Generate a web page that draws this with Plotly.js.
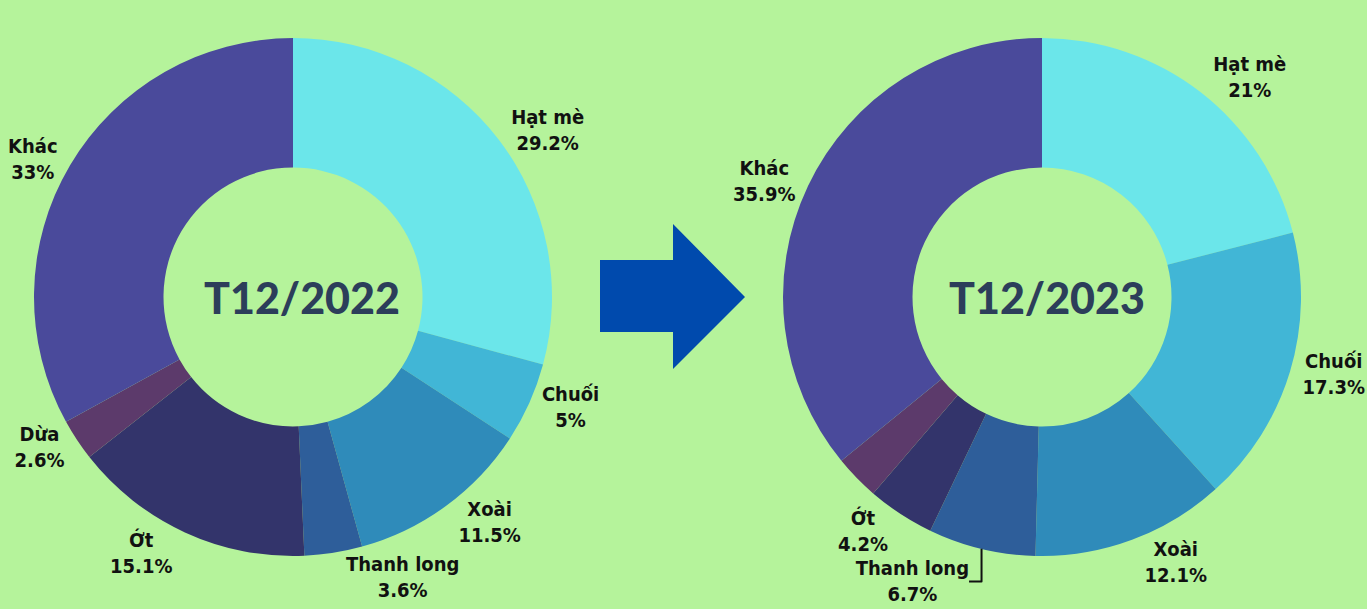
<!DOCTYPE html>
<html>
<head>
<meta charset="utf-8">
<script src="https://cdn.plot.ly/plotly-3.0.1.min.js"></script>
<style>
html,body{margin:0;padding:0;background:#b5f39b;}
#chart{width:1367px;height:609px;}
</style>
</head>
<body>
<div id="chart"></div>
<script>
const categories = ["Hạt mè", "Chuối", "Xoài", "Thanh long", "Ớt", "Dừa", "Khác"];
const values2022 = [29.2, 5, 11.5, 3.6, 15.1, 2.6, 33];
const values2023 = [21, 17.3, 12.1, 6.7, 4.2, 2.8, 35.9];
const labels2023Shown = [true, true, true, true, true, false, true];
const centerTitles = ["T12/2022", "T12/2023"];
const sliceColors = ["#6be6ea", "#41b6d6", "#2f8bba", "#2e5e9a", "#33346b", "#5c3a6b", "#4a4a9b"];

const W = 1367, H = 609;
function dom(cx, cy, r) {
  return {x: [(cx - r) / W, (cx + r) / W], y: [(H - cy - r) / H, (H - cy + r) / H]};
}
const labelFont = {family: "'DejaVu Sans Condensed', 'Liberation Sans Narrow', sans-serif", size: 20, color: "#111111", weight: "bold"};

function pieTrace(vals, d, shown) {
  return {
    type: "pie",
    labels: categories,
    values: vals,
    sort: false,
    direction: "clockwise",
    rotation: 0,
    hole: 0.5,
    domain: d,
    marker: {colors: sliceColors, line: {width: 0}},
    textposition: "outside",
    texttemplate: categories.map((c, i) => shown[i] ? "%{label}<br>%{value}%" : ""),
    textfont: labelFont,
    outsidetextfont: labelFont,
    automargin: false,
    showlegend: false,
    hoverinfo: "label+percent"
  };
}

const t1 = pieTrace(values2022, dom(293, 297, 259), categories.map(() => true));
const t2 = pieTrace(values2023, dom(1042, 297, 259), labels2023Shown);

function px(x) { return (x / W).toFixed(5); }
function py(y) { return ((H - y) / H).toFixed(5); }
const arrowPath = "M " + px(600) + " " + py(260) + " L " + px(673) + " " + py(260) + " L " + px(673) + " " + py(224) +
  " L " + px(745) + " " + py(297) + " L " + px(673) + " " + py(369) + " L " + px(673) + " " + py(332) +
  " L " + px(600) + " " + py(332) + " Z";

const centerFont = {family: "Lato, 'Noto Sans', sans-serif", size: 43, color: "#2c3e5a", weight: 900};

const layout = {
  width: W, height: H,
  margin: {l: 0, r: 0, t: 0, b: 0},
  paper_bgcolor: "#b5f39b",
  plot_bgcolor: "#b5f39b",
  showlegend: false,
  shapes: [{
    type: "path", xref: "paper", yref: "paper",
    path: arrowPath,
    fillcolor: "#004aad", line: {width: 0}
  }],
  annotations: [
    {text: centerTitles[0], x: 302 / W, y: (H - 297) / H, xref: "paper", yref: "paper", showarrow: false, font: centerFont, xanchor: "center", yanchor: "middle"},
    {text: centerTitles[1], x: 1047 / W, y: (H - 297) / H, xref: "paper", yref: "paper", showarrow: false, font: centerFont, xanchor: "center", yanchor: "middle"}
  ]
};

Plotly.newPlot("chart", [t1, t2], layout, {displayModeBar: false, staticPlot: true});
</script>
</body>
</html>
